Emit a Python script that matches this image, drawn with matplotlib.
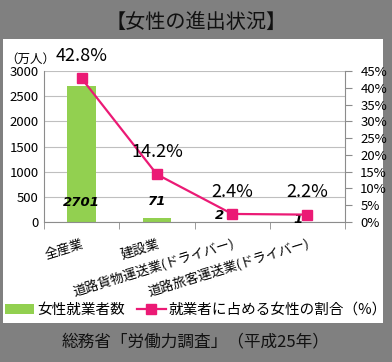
import matplotlib.pyplot as plt
from matplotlib.patches import Rectangle
from matplotlib.ticker import FuncFormatter

plt.rcParams['font.family'] = ['Noto Sans CJK JP', 'DejaVu Sans']

# data
categories = ["全産業", "建設業", "道路貨物運送業(ドライバー)", "道路旅客運送業(ドライバー)"]
women_workers = [2701, 71, 2, 1]          # 万人
women_share = [42.8, 14.2, 2.4, 2.2]      # %
y_ticks = [0, 500, 1000, 1500, 2000, 2500, 3000]
pct_ticks = [0, 5, 10, 15, 20, 25, 30, 35, 40, 45]

# hand-placed label offsets (points) like the original sheet
count_offsets = [(0, 9), (0, 10), (-9, 0), (-7, -3)]

bar_color = "#92d050"
line_color = "#eb1a75"
grid_color = "#bfbfbf"
axis_color = "#8c8c8c"

fig = plt.figure(figsize=(3.92, 3.62), dpi=100)
fig.patch.set_facecolor("#808080")
fig.patches.append(Rectangle((3 / 392, 1 - 323 / 362), 380 / 392, 284 / 362,
                             transform=fig.transFigure, facecolor="white",
                             edgecolor="none", zorder=-1))

fig.text(0.5, 1 - 22 / 362, "【女性の進出状況】", ha="center", va="center",
         fontsize=14.5, color="#111111")
fig.text(0.5, 1 - 342 / 362, "総務省「労働力調査」（平成25年）", ha="center",
         va="center", fontsize=12, color="#111111")

ax = fig.add_axes([44 / 392, 1 - 222 / 362, 301 / 392, 151 / 362])
ax.set_facecolor("none")
x = list(range(len(categories)))
bars = ax.bar(x, women_workers, width=0.38, color=bar_color, zorder=2,
              label="女性就業者数")
ax.set_xlim(-0.5, len(categories) - 0.5)
ax.set_ylim(0, 3000)
ax.set_yticks(y_ticks)
ax.yaxis.grid(True, color=grid_color, linewidth=0.8)
ax.set_axisbelow(True)
ax.tick_params(axis="y", length=0, labelsize=9.5, pad=4)
for s in ["top", "right"]:
    ax.spines[s].set_visible(False)
ax.spines["left"].set_color(axis_color)
ax.spines["bottom"].set_color(axis_color)

# category labels, ticks at category borders
ax.set_xticks(x)
ax.set_xticklabels(categories, rotation=17, ha="right", va="top",
                   rotation_mode="anchor", fontsize=9.5)
ax.tick_params(axis="x", which="major", length=0, pad=11)
ax.set_xticks([i - 0.5 for i in range(len(categories) + 1)], minor=True)
ax.tick_params(axis="x", which="minor", length=5, color=axis_color)

for i, v in enumerate(women_workers):
    ax.annotate(str(v), xy=(i, 0), xytext=count_offsets[i],
                textcoords="offset points", ha="center", va="bottom",
                fontsize=9.5, fontweight="bold", fontstyle="italic",
                family="DejaVu Sans", zorder=5)

fig.text(5 / 392, 1 - 59 / 362, "（万人）", ha="left", va="center", fontsize=9)

ax2 = ax.twinx()
ax2.plot(x, women_share, color=line_color, linewidth=1.6, marker="s",
         markersize=7.5, label="就業者に占める女性の割合（%）", zorder=3)
ax2.set_ylim(0, 45)
ax2.set_yticks(pct_ticks)
ax2.yaxis.set_major_formatter(FuncFormatter(lambda v, p: f"{v:.0f}%"))
ax2.tick_params(axis="y", length=5, color=axis_color, labelsize=9.5, pad=6)
for s in ["top", "left", "bottom"]:
    ax2.spines[s].set_visible(False)
ax2.spines["right"].set_color(axis_color)

for i, v in enumerate(women_share):
    ax2.annotate(f"{v}%", xy=(i, v), xytext=(0, 16), textcoords="offset points",
                 ha="center", va="center", fontsize=13)

h1, l1 = ax.get_legend_handles_labels()
h2, l2 = ax2.get_legend_handles_labels()
fig.legend(h1 + h2, l1 + l2, loc="center", bbox_to_anchor=(0.5, 1 - 310 / 362),
           ncol=2, frameon=False, fontsize=10.5, handlelength=2.0,
           handletextpad=0.2, columnspacing=0.8)

fig.savefig("out.png", dpi=100, facecolor=fig.get_facecolor())
